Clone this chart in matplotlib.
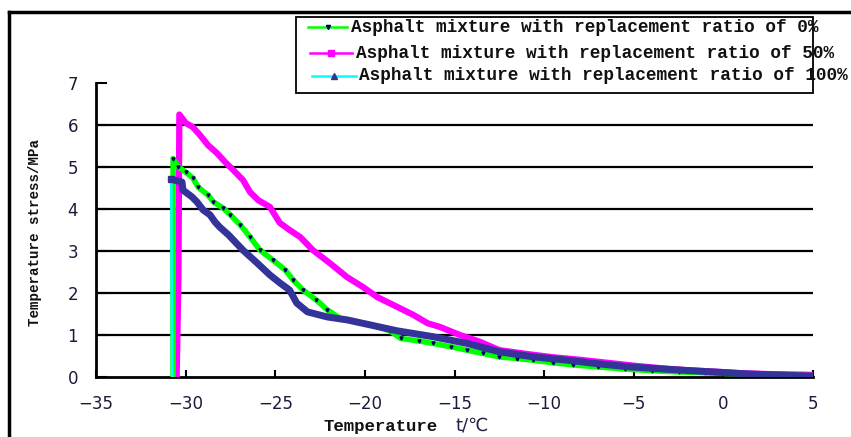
import matplotlib
matplotlib.use("Agg")
import matplotlib.pyplot as plt
from matplotlib.lines import Line2D
from matplotlib.patches import Rectangle

# ---- data ----
series_labels = [
    "Asphalt mixture with replacement ratio of 0%",
    "Asphalt mixture with replacement ratio of 50%",
    "Asphalt mixture with replacement ratio of 100%",
]

x0 = [-30.7, -30.7, -30.4, -30.0, -29.6, -29.3, -28.75, -28.45, -27.9, -27.5, -26.95, -26.4,
      -25.85, -25.15, -24.45, -24.0, -23.45, -22.7, -22.1, -21.4, -20.5, -19.5, -18.6, -18.0,
      -17.0, -16.2, -15.2, -14.3, -13.4, -12.5, -11.5, -10.6, -9.5, -8.4, -7.0, -5.5, -4.0,
      -2.5, -1.0, 0.5, 2.0, 3.5, 5.0]
y0 = [0, 5.2, 5.0, 4.88, 4.74, 4.52, 4.33, 4.17, 4.02, 3.86, 3.62, 3.33,
      3.02, 2.79, 2.55, 2.31, 2.07, 1.83, 1.6, 1.4, 1.32, 1.22, 1.1, 0.92,
      0.86, 0.8, 0.72, 0.64, 0.56, 0.48, 0.44, 0.4, 0.34, 0.29, 0.24, 0.19, 0.15,
      0.12, 0.1, 0.08, 0.06, 0.04, 0.03]

x50 = [-30.5, -30.4, -30.35, -30.0, -29.6, -29.2, -28.75, -28.25, -27.8, -27.35, -26.8, -26.4,
       -25.95, -25.3, -24.75, -24.2, -23.6, -22.9, -21.95, -21.0, -20.1, -19.3, -18.2, -17.3,
       -16.5, -15.8, -14.7, -13.6, -12.5, -11.0, -9.5, -8.0, -6.5, -5.0, -3.5, -2.0, -0.5,
       1.0, 2.5, 4.0, 5.0]
y50 = [0, 2.4, 6.25, 6.05, 5.95, 5.76, 5.52, 5.33, 5.12, 4.93, 4.69, 4.4,
       4.21, 4.05, 3.67, 3.5, 3.33, 3.02, 2.71, 2.38, 2.14, 1.9, 1.67, 1.48,
       1.28, 1.19, 1.0, 0.84, 0.64, 0.55, 0.47, 0.41, 0.34, 0.27, 0.21, 0.16, 0.13,
       0.09, 0.07, 0.06, 0.05]

x100 = [-30.75, -30.8, -30.2, -30.15, -29.65, -29.37, -29.03, -28.64, -28.36, -28.1, -27.6,
        -26.8, -26.0, -25.3, -24.74, -24.2, -23.8, -23.2, -22.1, -21.0, -19.7, -18.2, -16.2,
        -14.3, -12.5, -10.6, -8.7, -6.9, -5.2, -3.0, -0.6, 1.5, 3.5, 5.0]
y100 = [0, 4.71, 4.64, 4.45, 4.29, 4.17, 3.98, 3.86, 3.69, 3.57, 3.38,
        3.02, 2.71, 2.43, 2.24, 2.07, 1.76, 1.55, 1.43, 1.36, 1.24, 1.1, 0.96,
        0.8, 0.6, 0.48, 0.4, 0.31, 0.24, 0.18, 0.12, 0.07, 0.04, 0.02]

xticks = [-35, -30, -25, -20, -15, -10, -5, 0, 5]
yticks = [0, 1, 2, 3, 4, 5, 6, 7]

GREEN = "#00FF00"
MAGENTA = "#FF00FF"
NAVY = "#333399"
CYAN = "#00FFFF"
W, H = 851, 437

fig = plt.figure(figsize=(W / 100, H / 100), dpi=100)
fig.patch.set_facecolor("white")
ax = fig.add_axes([96 / W, 1 - 377 / H, 717 / W, 294 / H])
ax.set_xlim(-35, 5)
ax.set_ylim(0, 7)

# series
ax.plot(x50, y50, color=MAGENTA, lw=4.5, zorder=3, solid_capstyle="butt")
ax.plot(x0, y0, color=GREEN, lw=4, zorder=4, solid_capstyle="butt")
ax.plot(x0[1:], y0[1:], ls="none", marker="v", ms=2.2, color="#000066", zorder=5)
ax.plot(x100, y100, color=CYAN, lw=1.8, zorder=5)
ax.plot(x100[1:], y100[1:], color=NAVY, lw=5, zorder=6, solid_capstyle="butt")
ax.plot(x100[1:2], y100[1:2], ls="none", marker="s", ms=5, color=NAVY, zorder=7)

# axes styling
for s in ("top", "right"):
    ax.spines[s].set_visible(False)
for s in ("left", "bottom"):
    ax.spines[s].set_linewidth(2)
    ax.spines[s].set_color("black")
ax.set_xticks(xticks)
ax.set_yticks(yticks)
ax.tick_params(axis="both", direction="in", labelsize=12, labelcolor="#1a1a3a", pad=13, width=1.5)
ax.tick_params(axis="y", length=8)
ax.tick_params(axis="x", length=5)
for lab in ax.get_xticklabels() + ax.get_yticklabels():
    lab.set_family("DejaVu Sans")
ax.yaxis.grid(True, color="black", lw=1.6)
ax.set_axisbelow(True)
ax.get_ygridlines()[-1].set_visible(False)
ax.get_ygridlines()[0].set_visible(False)

# axis titles
fig.text(35 / W, 1 - 232 / H, "Temperature stress/MPa", rotation=90, ha="center", va="center",
         family="Liberation Mono", weight="bold", size=10.2, color="#111111")
fig.text(323 / W, 1 - 426 / H, "Temperature", ha="left", va="center",
         family="Liberation Mono", weight="bold", size=12.5, color="#111111")
fig.text(455 / W, 1 - 426 / H, "t/℃", ha="left", va="center",
         family="DejaVu Sans", size=13, color="#222244")

# outer frame (top and left edges visible)
fig.add_artist(Line2D([9 / W, 9 / W], [0, 1 - 12 / H], transform=fig.transFigure, color="black", lw=2.5))
fig.add_artist(Line2D([9 / W, 1], [1 - 12 / H, 1 - 12 / H], transform=fig.transFigure, color="black", lw=2.5))

# legend box
fig.add_artist(Rectangle((296 / W, 1 - 93 / H), (813 - 296) / W, (93 - 17) / H,
                         transform=fig.transFigure, fill=False, edgecolor="black", lw=1.3))
rows = [
    (27, 308, 347, 351, GREEN, "v", "#000066", 3),
    (53, 310, 352, 356, MAGENTA, "s", MAGENTA, 4),
    (76, 312, 356, 359, CYAN, "^", NAVY, 5),
]
for (yy, x1, x2, xt, lc, mk, mc, ms), label in zip(rows, series_labels):
    yf = 1 - yy / H
    fig.add_artist(Line2D([x1 / W, x2 / W], [yf, yf], transform=fig.transFigure, color=lc, lw=1.8))
    fig.add_artist(Line2D([(x1 + x2) / 2 / W], [yf], transform=fig.transFigure, ls="none",
                          marker=mk, ms=ms, color=mc))
    fig.text(xt / W, yf, label, ha="left", va="center", family="Liberation Mono",
             weight="bold", size=12.8, color="#111111")

fig.savefig("out.png", dpi=100)
